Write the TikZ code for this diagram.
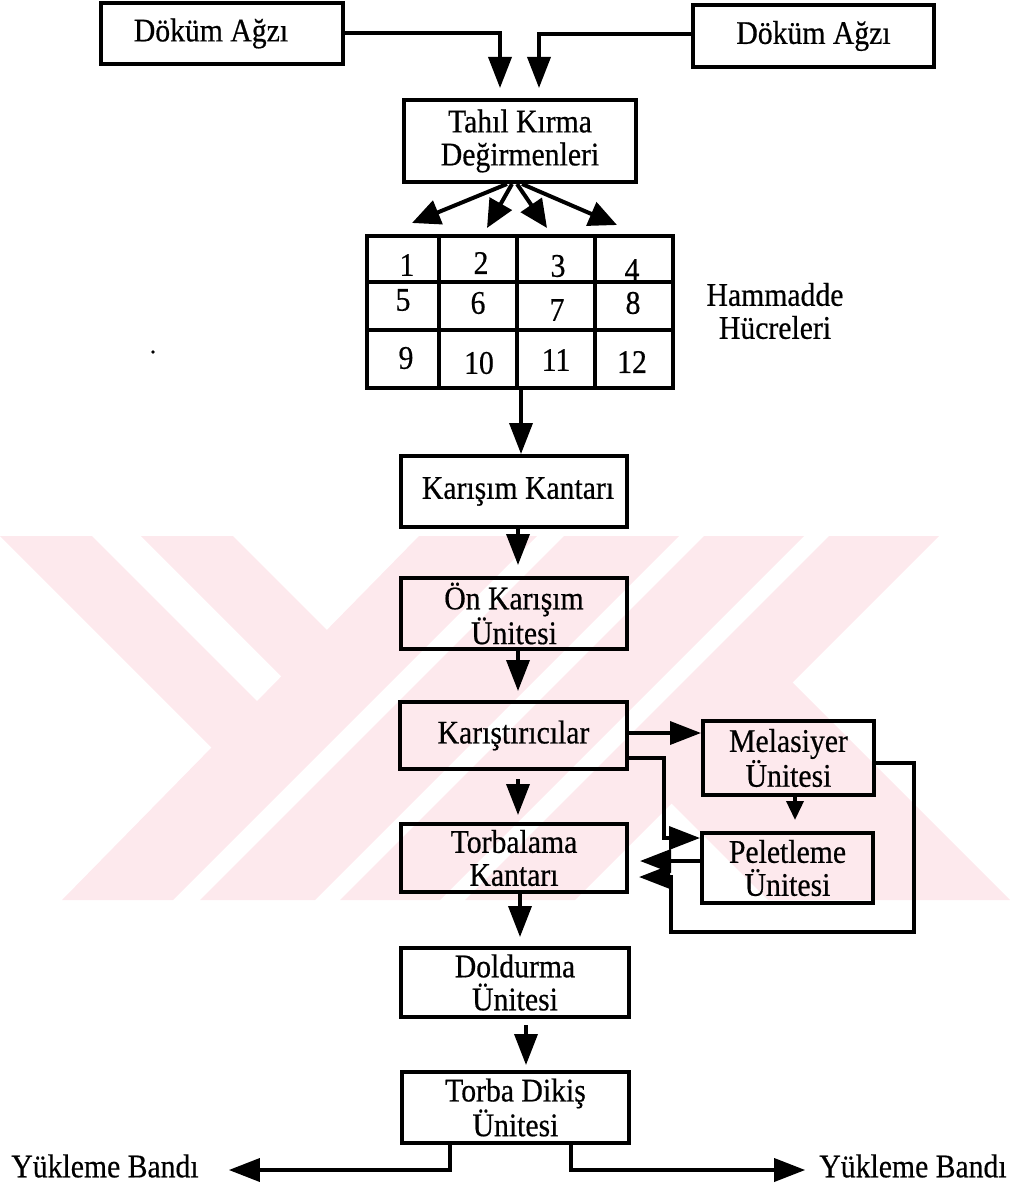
\documentclass[tikz,border=0pt]{standalone}
\usepackage{fontspec}
\setmainfont[FakeStretch=0.9,FakeBold=0.5]{Liberation Serif}
\usetikzlibrary{arrows.meta,calc}
\definecolor{wm}{RGB}{253,233,237}
\begin{document}
\begin{tikzpicture}[x=1pt,y=-1pt,
  box/.style={draw, line width=4pt, inner sep=0pt, align=center, font=\fontsize{33}{33}\selectfont},
  lbl/.style={inner sep=0pt, align=center, font=\fontsize{33}{33}\selectfont},
  conn/.style={line width=3.6pt},
  arr/.style={conn, -{Triangle[length=31pt,width=23pt]}},
  sarr/.style={conn, -{Triangle[length=19pt,width=17pt]}},
  farr/.style={line width=4pt, -{Triangle[length=28pt,width=25pt]}},
  gridline/.style={line width=4pt}
]
\useasboundingbox (0,0) rectangle (1016,1190);
% watermark
\fill[wm] (0,536) -- (92,536) -- (260.5,704.5) -- (214.5,750.5) -- cycle;
\fill[wm] (141,536) -- (233,536) -- (330,633) -- (284,679) -- cycle;
\fill[wm] (419,536) -- (537,536) -- (173,900) -- (62,900) -- cycle;
\fill[wm] (564,536) -- (679,536) -- (315,900) -- (200,900) -- cycle;
\fill[wm] (704,536) -- (804,536) -- (440,900) -- (340,900) -- cycle;
\fill[wm] (829,536) -- (939,536) -- (575,900) -- (465,900) -- cycle;
\fill[wm] (788,678) -- (1010,900) -- (768,900) -- (667,799) -- cycle;

% boxes
\node[box, minimum width=242pt, minimum height=61pt] (dA1) at (222,33.5) {Döküm Ağzı\hspace*{22pt}};
\node[box, minimum width=241pt, minimum height=62pt] (dA2) at (813.5,36) {Döküm Ağzı};
\node[box, minimum width=232pt, minimum height=82pt] (tahil) at (520,141) {Tahıl Kırma\\Değirmenleri};

% grid
\node[draw, line width=4pt, minimum width=306pt, minimum height=151pt, inner sep=0pt] (grid) at (519.5,312) {};
\draw[gridline] (439,236) -- (439,388);
\draw[gridline] (517,236) -- (517,388);
\draw[gridline] (595,236) -- (595,388);
\draw[gridline] (366,282) -- (673,282);
\draw[gridline] (366,330) -- (673,330);
\node[lbl] (c1) at (407,265) {1};
\node[lbl] (c2) at (481,263) {2};
\node[lbl] (c3) at (558,266) {3};
\node[lbl] (c4) at (632,270) {4};
\node[lbl] (c5) at (403,300) {5};
\node[lbl] (c6) at (478,303) {6};
\node[lbl] (c7) at (557,310) {7};
\node[lbl] (c8) at (633,303) {8};
\node[lbl] (c9) at (406,358) {9};
\node[lbl] (c10) at (479,363) {10};
\node[lbl] (c11) at (556,360) {11};
\node[lbl] (c12) at (632,362) {12};
\node[lbl] (ham) at (775,311) {Hammadde\\Hücreleri};
\fill (153,352) circle (1.8pt);

\node[box, minimum width=226pt, minimum height=71pt] (kk) at (514,491.5) {\hspace*{8pt}Karışım Kantarı};
\node[box, minimum width=226pt, minimum height=71pt] (onk) at (514,613.5) {Ön Karışım\\Ünitesi};
\node[box, minimum width=227pt, minimum height=67pt] (kar) at (513.5,735.5) {Karıştırıcılar};
\node[box, minimum width=226pt, minimum height=68pt] (torb) at (514,858) {Torbalama\\Kantarı};
\node[box, minimum width=228pt, minimum height=69pt] (dold) at (515,982.5) {Doldurma\\Ünitesi};
\node[box, minimum width=227pt, minimum height=71pt] (dikis) at (515.5,1107.5) {Torba Dikiş\\Ünitesi};
\node[box, minimum width=171pt, minimum height=74pt] (mel) at (788.5,758) {Melasiyer\\Ünitesi};
\node[box, minimum width=171pt, minimum height=70pt] (pel) at (787.5,868) {Peletleme\\Ünitesi};
\node[lbl] (ykl) at (105,1166) {Yükleme Bandı};
\node[lbl] (ykr) at (913,1166) {Yükleme Bandı};

% connectors
\draw[arr] ([yshift=0.5pt]dA1.east) -| ([xshift=-20pt,yshift=10pt]tahil.north);
\draw[arr] ([yshift=2pt]dA2.west) -| ([xshift=19pt,yshift=10pt]tahil.north);

\coordinate (f1) at (412,223);
\coordinate (f2) at (487,228);
\coordinate (f3) at (547,228);
\coordinate (f4) at (617,225);
\draw[farr] ([xshift=-13pt]tahil.south) -- (f1);
\draw[farr] ([xshift=-8pt]tahil.south) -- (f2);
\draw[farr] ([xshift=-3pt]tahil.south) -- (f3);
\draw[farr] ([xshift=2pt]tahil.south) -- (f4);

\draw[arr] ([xshift=1.5pt]grid.south) -- ([xshift=1.5pt]grid.south |- kk.north);
\draw[arr, shorten >=11pt] ([xshift=4pt]kk.south) -- ([xshift=4pt]kk.south |- onk.north);
\draw[arr, shorten >=9pt] ([xshift=4pt]onk.south) -- ([xshift=4pt]onk.south |- kar.north);
\draw[arr, shorten <=8pt, shorten >=7pt] ([xshift=4.5pt]kar.south) -- ([xshift=4.5pt]kar.south |- torb.north);
\draw[arr, shorten >=9pt] ([xshift=6pt]torb.south) -- ([xshift=6pt]torb.south |- dold.north);
\draw[arr, shorten <=6pt, shorten >=5pt] ([xshift=11pt]dold.south) -- ([xshift=11pt]dold.south |- dikis.north);

\draw[arr] ([yshift=2.5pt]kar.east) -- ([yshift=2.5pt]kar.east -| mel.west);
\draw[arr] ([yshift=-22.5pt]kar.east) -- ++(35,0) |- ([yshift=30pt]pel.west);
\draw[sarr, shorten >=11pt] ([xshift=6.5pt]mel.south) -- ([xshift=7.5pt]pel.north);
\draw[arr, shorten >=11pt] ([yshift=7pt]pel.west) -- ([yshift=7pt]pel.west -| torb.east);
\coordinate (r1) at (914,763);
\coordinate (r2) at (914,932);
\coordinate (r3) at (671,932);
\coordinate (r4) at (671,877);
\draw[arr, shorten >=10pt] ([yshift=-5pt]mel.east) -- (r1) -- (r2) -- (r3) -- (r4) -- ([yshift=-19pt]torb.east);

\draw[arr, shorten >=30pt] ([xshift=-65.5pt]dikis.south) |- ([yshift=-4pt]ykl.east);
\draw[arr, shorten >=14pt] ([xshift=55.5pt]dikis.south) |- ([yshift=-4pt]ykr.west);
\end{tikzpicture}
\end{document}
